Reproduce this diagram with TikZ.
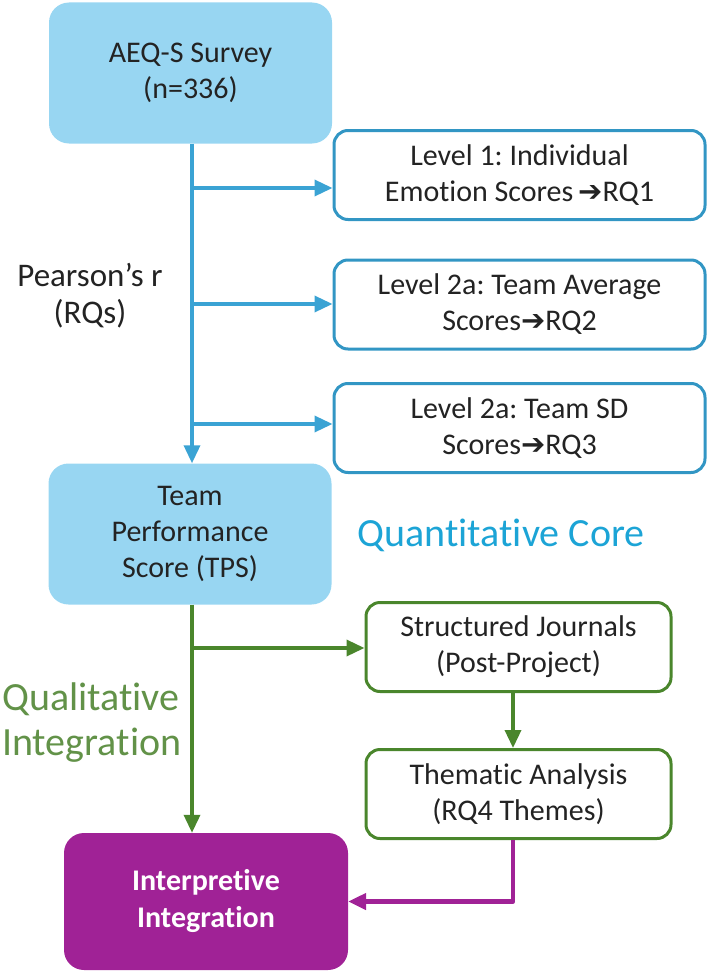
\documentclass[tikz,border=0pt]{standalone}
\usepackage{fontspec}
\setmainfont{Carlito}[RawFeature=-liga]
\newfontfamily\arrowfont{DejaVu Sans}
\usetikzlibrary{arrows.meta}
\definecolor{corefill}{RGB}{152,214,242}
\definecolor{coreline}{RGB}{58,163,212}
\definecolor{lvlline}{RGB}{50,150,196}
\definecolor{coretext}{RGB}{28,164,214}
\definecolor{qualline}{RGB}{74,134,44}
\definecolor{qualtext}{RGB}{98,146,72}
\definecolor{interp}{RGB}{160,34,150}
\definecolor{ink}{RGB}{35,35,35}
\newcommand{\toRQ}{{\arrowfont\fontsize{29}{29}\selectfont ➔}}
\frenchspacing
\begin{document}
\begin{tikzpicture}[x=1pt,y=-1pt,>={Triangle[length=18pt,width=16pt]}, font=\fontsize{30}{36}\selectfont, line join=round,
		corebox/.style={fill=corefill,rounded corners=20pt,minimum width=283pt,minimum height=141pt,align=center,text=ink},
		lvlbox/.style={draw=lvlline,line width=3pt,rounded corners=14pt,fill=white,minimum width=371pt,minimum height=89pt,align=center,text=ink},
		qualbox/.style={draw=qualline,line width=3pt,rounded corners=14pt,fill=white,minimum width=305pt,minimum height=89pt,align=center,text=ink},
		corearrow/.style={->,draw=coreline,line width=3.5pt},
		qualarrow/.style={->,draw=qualline,line width=3.5pt}]
	\useasboundingbox (0,0) rectangle (718,974);
	%	quantitative part
	\node (aeq) at (190.5,73) [corebox]{AEQ-S Survey\\(n=336)};
	\node (tps) at (190,534) [corebox]{Team\\Performance\\Score (TPS)};
	\node (lvl1) at (519.5,175) [lvlbox]{Level 1: Individual\\Emotion Scores\,\toRQ RQ1};
	\node (lvl2) at (519.5,304.5) [lvlbox]{Level 2a: Team Average\\Scores\toRQ RQ2};
	\node (lvl3) at (519.5,428) [lvlbox]{Level 2a: Team SD\\Scores\toRQ RQ3};
	\node (pearson) at (90,295.5) [align=center,text=ink,font=\fontsize{33}{37}\selectfont]{Pearson’s r\\(RQs)};
	\node (quant) at (501,535) [text=coretext,font=\fontsize{40}{44}\selectfont]{Quantitative Core};
	\draw[corearrow] (aeq.south -| 192,0) -- (tps.north -| 192,0);
	\coordinate (b1) at (192,188);
	\coordinate (b2) at (192,304);
	\coordinate (b3) at (192,424);
	\draw[corearrow] (b1) -- (b1 -| lvl1.west);
	\draw[corearrow] (b2) -- (b2 -| lvl2.west);
	\draw[corearrow] (b3) -- (b3 -| lvl3.west);
	%	qualitative part
	\node (sj) at (518.5,647) [qualbox]{Structured Journals\\(Post-Project)};
	\node (ta) at (518.5,794) [qualbox]{Thematic Analysis\\(RQ4 Themes)};
	\node (qual) at (2,722.5) [anchor=west,align=left,text=qualtext,inner sep=0pt,font=\fontsize{40}{45}\selectfont]{Qualitative\\Integration};
	\node (ii) at (206,901.5) [fill=interp,rounded corners=20pt,minimum width=284pt,minimum height=137pt,align=center,text=white,font=\fontsize{30}{37}\selectfont\bfseries]{Interpretive\\Integration};
	\draw[qualarrow] (tps.south -| 192,0) -- (ii.north -| 192,0);
	\coordinate (b4) at (192,648);
	\draw[qualarrow] (b4) -- (b4 -| sj.west);
	\draw[qualarrow] (sj.south -| 513,0) -- (ta.north -| 513,0);
	\draw[->,draw=interp,line width=4.5pt] (ta.south -| 513,0) |- (ii.east);
\end{tikzpicture}
\end{document}
